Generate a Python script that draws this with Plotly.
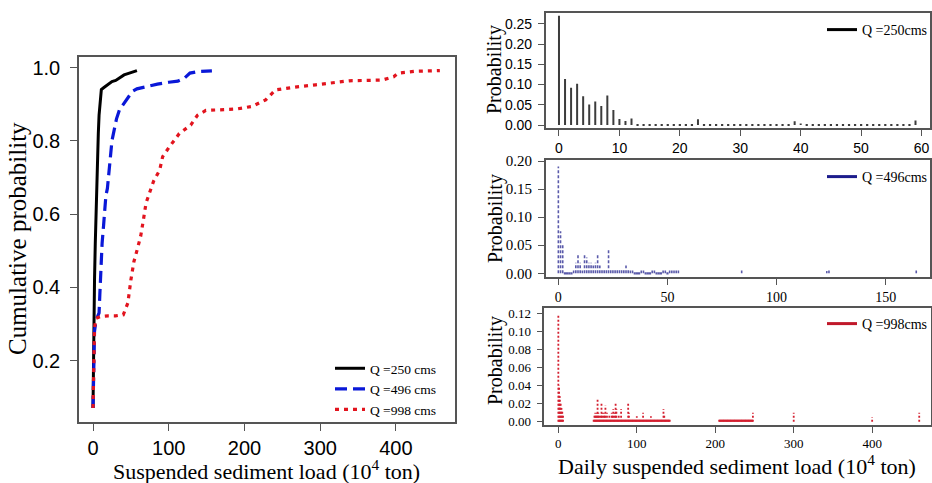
import plotly.graph_objects as go

# ---------------- Left panel: cumulative probability ----------------
cdf_names = ["Q =250 cms", "Q =496 cms", "Q =998 cms"]
cdf250_x = [0, 0.5, 1, 2, 3, 4, 5, 6, 7, 8, 9, 10, 11, 14, 17, 20, 25, 30, 35, 41, 48, 54, 58]
cdf250_y = [0.07, 0.2, 0.3, 0.42, 0.52, 0.62, 0.69, 0.76, 0.82, 0.87, 0.9, 0.925, 0.94,
            0.945, 0.95, 0.955, 0.962, 0.965, 0.972, 0.98, 0.985, 0.99, 0.992]
cdf496_x = [0, 1, 2, 4, 6, 8, 9, 10, 11, 12, 14, 15.5, 17, 19, 21, 23, 25, 28, 31, 35, 40,
            45, 52, 58, 70, 85, 100, 112, 120, 124, 128, 138, 157]
cdf496_y = [0.07, 0.2, 0.28, 0.31, 0.32, 0.33, 0.38, 0.43, 0.48, 0.52, 0.57, 0.62, 0.65,
            0.67, 0.72, 0.77, 0.8, 0.83, 0.86, 0.885, 0.9, 0.915, 0.935, 0.942, 0.948,
            0.955, 0.96, 0.963, 0.97, 0.978, 0.985, 0.989, 0.991]
cdf998_x = [0, 1, 2, 4, 10, 20, 30, 40, 46, 50, 54, 58, 63, 67, 70, 75, 80, 88, 92, 101,
            114, 129, 138, 149, 170, 190, 210, 228, 241, 255, 272, 294, 316, 338, 360,
            382, 397, 403, 425, 458]
cdf998_y = [0.07, 0.18, 0.29, 0.315, 0.32, 0.322, 0.322, 0.325, 0.357, 0.42, 0.47, 0.5,
            0.54, 0.59, 0.63, 0.66, 0.69, 0.72, 0.757, 0.784, 0.82, 0.843, 0.87, 0.883,
            0.885, 0.887, 0.894, 0.912, 0.939, 0.944, 0.948, 0.953, 0.959, 0.964, 0.965,
            0.966, 0.975, 0.985, 0.99, 0.992]
cdf_ticks_x = [0, 100, 200, 300, 400]
cdf_ticks_y = [0.2, 0.4, 0.6, 0.8, 1.0]

# ---------------- Right panels: probability mass ----------------
pmf250_x = list(range(0, 60))
pmf250_p = [0.270, 0.114, 0.092, 0.102, 0.071, 0.051, 0.058, 0.047, 0.073, 0.037,
            0.015, 0.010, 0.016, 0, 0, 0, 0, 0, 0, 0,
            0, 0, 0, 0.014, 0, 0, 0, 0, 0, 0,
            0, 0, 0, 0, 0, 0, 0, 0, 0, 0.009,
            0.004, 0, 0, 0, 0, 0, 0, 0, 0, 0,
            0, 0, 0, 0, 0, 0, 0, 0, 0, 0.011]
pmf250_ticks = [0, 10, 20, 30, 40, 50, 60]

pmf496_x = list(range(0, 56)) + [84, 123, 124, 164]
pmf496_p = [0.190, 0.075, 0.052, 0, 0, 0, 0, 0.005, 0.019, 0.033,
            0.019, 0.005, 0.033, 0.028, 0.019, 0.019, 0.014, 0.019, 0.033, 0.014,
            0.009, 0.009, 0.009, 0.044, 0.009, 0.009, 0.009, 0.009, 0.009, 0.009,
            0.009, 0.014, 0.009, 0.005, 0.005, 0, 0, 0, 0.005, 0.005,
            0, 0, 0, 0.005, 0.005, 0, 0, 0, 0.005, 0.005,
            0, 0.005, 0.005, 0.005, 0.005, 0.005,
            0.005, 0.004, 0.005, 0.005]
pmf496_ticks = [0, 50, 100, 150]

pmf998_x = (list(range(0, 7)) + list(range(45, 143)) + list(range(205, 249))
            + [300, 400, 460])
pmf998_p = ([0.118, 0.040, 0.028, 0.020, 0.015, 0.011, 0.007]
            + [0.004, 0.007, 0.010, 0.007, 0.010, 0.026, 0.010, 0.007, 0.004, 0.007,
               0.022, 0.010, 0.004, 0.010, 0.007, 0.018, 0.004, 0.010, 0.004, 0.004,
               0.007, 0.004, 0.004, 0.010, 0.007, 0.014, 0.004, 0.010, 0.022, 0.014,
               0.004, 0.004, 0.007, 0.004, 0.004, 0.014, 0.004, 0.004, 0.004, 0.004,
               0.004, 0.004, 0.004, 0.004, 0.022, 0.010, 0.004, 0.004, 0.004, 0.004,
               0.004, 0.004, 0.004, 0.004, 0.004, 0.006, 0.004, 0.004, 0.004, 0.004,
               0.004, 0.004, 0.004, 0.010, 0.004, 0.004, 0.004, 0.004, 0.004, 0.004,
               0.004, 0.004, 0.004, 0.006, 0.004, 0.004, 0.004, 0.004, 0.004, 0.004,
               0.004, 0.004, 0.004, 0.004, 0.004, 0.004, 0.004, 0.004, 0.004, 0.014,
               0.007, 0.004, 0.004, 0.004, 0.004, 0.004, 0.004, 0.004]
            + [0.004, 0.004, 0.004, 0.004, 0.004, 0.004, 0.004, 0.004, 0.004, 0.004,
               0.004, 0.004, 0.004, 0.004, 0.004, 0.004, 0.004, 0.004, 0.004, 0.004,
               0.004, 0.004, 0.004, 0.004, 0.004, 0.004, 0.004, 0.004, 0.004, 0.004,
               0.004, 0.004, 0.004, 0.004, 0.004, 0.004, 0.004, 0.004, 0.004, 0.004,
               0.004, 0.004, 0.004, 0.010]
            + [0.010, 0.005, 0.010])
pmf998_ticks = [0, 100, 200, 300, 400]

pmf_names = ["Q =250cms", "Q =496cms", "Q =998cms"]

SERIF = "Liberation Serif"
SANS = "Liberation Sans"
FRAME = "#555555"


def stems(xs, ps):
    X, Y = [], []
    for x, p in zip(xs, ps):
        if p > 0:
            X += [x, x, None]
            Y += [0, p, None]
    return X, Y


def zeros(xs, ps):
    zx = [x for x, p in zip(xs, ps) if p == 0]
    return zx, [0] * len(zx)


fig = go.Figure()

# Left CDF lines
fig.add_trace(go.Scatter(x=cdf250_x, y=cdf250_y, mode="lines", name=cdf_names[0],
                         line=dict(color="black", width=3), xaxis="x", yaxis="y"))
fig.add_trace(go.Scatter(x=cdf496_x, y=cdf496_y, mode="lines", name=cdf_names[1],
                         line=dict(color="#0a18d8", width=3.2, dash="12px,6px"),
                         xaxis="x", yaxis="y"))
fig.add_trace(go.Scatter(x=cdf998_x, y=cdf998_y, mode="lines", name=cdf_names[2],
                         line=dict(color="#e2141e", width=3.2, dash="4px,5px"),
                         xaxis="x", yaxis="y"))

# Right PMF panels
panels = [
    (pmf250_x, pmf250_p, "#3c3c3c", "solid", 2.0, "x2", "y2", "#000000", "legend2", pmf_names[0]),
    (pmf496_x, pmf496_p, "#5a5aaa", "3px,2px", 1.6, "x3", "y3", "#1c1c8c", "legend3", pmf_names[1]),
    (pmf998_x, pmf998_p, "#d42030", "2px,2px", 1.8, "x4", "y4", "#c0182a", "legend4", pmf_names[2]),
]
for xs, ps, col, dash, w, xa, ya, lcol, leg, name in panels:
    sx, sy = stems(xs, ps)
    fig.add_trace(go.Scatter(x=sx, y=sy, mode="lines", showlegend=False,
                             line=dict(color=col, width=w, dash=dash), xaxis=xa, yaxis=ya))
    zx, zy = zeros(xs, ps)
    fig.add_trace(go.Scatter(x=zx, y=zy, mode="markers", showlegend=False,
                             marker=dict(color=col, size=2.2, symbol="square"),
                             xaxis=xa, yaxis=ya))
    fig.add_trace(go.Scatter(x=[None], y=[None], mode="lines", name=name, legend=leg,
                             line=dict(color=lcol, width=3), xaxis=xa, yaxis=ya))


def W(px):
    return px / 932.0


def H(py):
    return 1 - py / 483.0


common = dict(showline=True, mirror=True, linecolor=FRAME, linewidth=1.5,
              showgrid=False, zeroline=False, ticks="outside", tickcolor=FRAME,
              tickwidth=1.2, automargin=False)

fig.update_layout(
    width=932, height=483, margin=dict(l=0, r=0, t=0, b=0, autoexpand=False),
    paper_bgcolor="white", plot_bgcolor="white",
    xaxis=dict(domain=[W(79), W(455)], range=[-18.5, 478], tickvals=cdf_ticks_x,
               ticklen=7, tickfont=dict(family=SANS, size=20, color="black"),
               anchor="y", **common),
    yaxis=dict(domain=[H(422), H(57)], range=[0.032, 1.029], tickvals=cdf_ticks_y,
               tickformat=".1f", ticklen=7, ticklabelstandoff=6,
               tickfont=dict(family=SANS, size=20, color="black"), anchor="x", **common),
    xaxis2=dict(domain=[W(545.7), W(930)], range=[-2.2, 61.4], tickvals=pmf250_ticks,
                ticklen=6, tickfont=dict(family=SANS, size=14, color="black"),
                anchor="y2", **common),
    yaxis2=dict(domain=[H(128), H(13)], range=[-0.0074, 0.277],
                tickvals=[0, 0.05, 0.10, 0.15, 0.20, 0.25], tickformat=".2f", ticklen=6,
                ticklabelstandoff=3,
                tickfont=dict(family=SANS, size=14, color="black"), anchor="x2", **common),
    xaxis3=dict(domain=[W(545.7), W(930)], range=[-5.8, 170.3], tickvals=pmf496_ticks,
                ticklen=6, tickfont=dict(family=SERIF, size=14, color="black"),
                anchor="y3", **common),
    yaxis3=dict(domain=[H(277), H(160)], range=[-0.0066, 0.2018],
                tickvals=[0, 0.05, 0.10, 0.15, 0.20], tickformat=".2f", ticklen=6,
                ticklabelstandoff=3,
                tickfont=dict(family=SERIF, size=15, color="black"), anchor="x3", **common),
    xaxis4=dict(domain=[W(544.3), W(931)], range=[-17.9, 475], tickvals=pmf998_ticks,
                ticklen=6, tickfont=dict(family=SERIF, size=13, color="black"),
                anchor="y4", **common),
    yaxis4=dict(domain=[H(425), H(307.7)], range=[-0.0037, 0.1262],
                tickvals=[0, 0.02, 0.04, 0.06, 0.08, 0.10, 0.12], tickformat=".2f",
                ticklen=6, ticklabelstandoff=3,
                tickfont=dict(family=SERIF, size=13, color="black"), anchor="x4", **common),
    legend=dict(x=W(330), y=H(353), xanchor="left", yanchor="top", bgcolor="rgba(0,0,0,0)",
                font=dict(family=SERIF, size=13.5, color="black"), tracegroupgap=0),
    legend2=dict(x=W(822), y=H(14), xanchor="left", yanchor="top", bgcolor="rgba(0,0,0,0)",
                 font=dict(family=SERIF, size=14, color="black")),
    legend3=dict(x=W(822), y=H(161), xanchor="left", yanchor="top", bgcolor="rgba(0,0,0,0)",
                 font=dict(family=SERIF, size=14, color="black")),
    legend4=dict(x=W(822), y=H(308), xanchor="left", yanchor="top", bgcolor="rgba(0,0,0,0)",
                 font=dict(family=SERIF, size=14, color="black")),
)

ann = [
    dict(text="Cumulative probability", x=W(17), y=H(239), textangle=-90, size=25),
    dict(text="Suspended sediment load (10<sup>4</sup> ton)", x=W(266), y=H(470), textangle=0, size=22),
    dict(text="Probability", x=W(495), y=H(70), textangle=-90, size=20),
    dict(text="Probability", x=W(495), y=H(219), textangle=-90, size=20),
    dict(text="Probability", x=W(495), y=H(361), textangle=-90, size=20),
    dict(text="Daily suspended sediment load (10<sup>4</sup> ton)", x=W(736.5), y=H(465), textangle=0, size=22),
]
for a in ann:
    fig.add_annotation(text=a["text"], x=a["x"], y=a["y"], xref="paper", yref="paper",
                       xanchor="center", yanchor="middle", textangle=a["textangle"],
                       showarrow=False, font=dict(family=SERIF, size=a["size"], color="black"))

fig.write_html("out.html", config={"displayModeBar": False},
               post_script="document.body.style.margin='0';document.body.style.overflow='hidden';")
